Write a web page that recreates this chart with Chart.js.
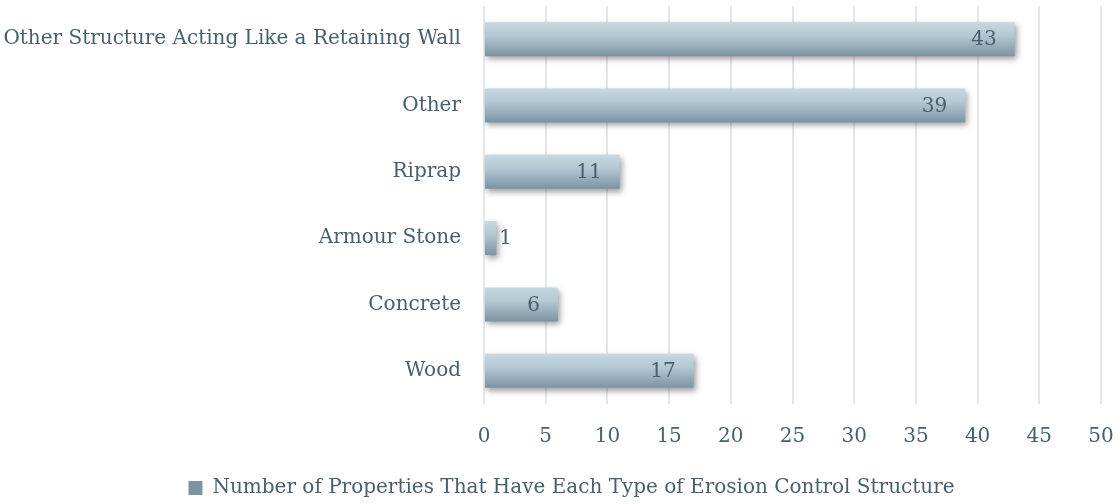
<!DOCTYPE html>
<html>
<head>
<meta charset="utf-8">
<script src="https://cdn.jsdelivr.net/npm/chart.js@4.4.1/dist/chart.umd.min.js"></script>
<style>
html,body{margin:0;padding:0;background:#fff;}
#wrap{width:1120px;height:504px;}
</style>
</head>
<body>
<div id="wrap"><canvas id="c" width="1120" height="504"></canvas></div>
<script>
const categories = ["Other Structure Acting Like a Retaining Wall","Other","Riprap","Armour Stone","Concrete","Wood"];
const values = [43, 39, 11, 1, 6, 17];
const seriesName = "Number of Properties That Have Each Type of Erosion Control Structure";
const xTicks = [0,5,10,15,20,25,30,35,40,45,50];

const FONT = "'DejaVu Serif', serif";
const TEXT = '#47606f';
const BAR_PCT = 0.8, CAT_PCT = 0.64;

function grad(ctx, top, bot) {
  const g = ctx.createLinearGradient(0, top, 0, bot);
  g.addColorStop(0, '#c6d8e1');
  g.addColorStop(0.4, '#b3c8d3');
  g.addColorStop(1, '#7b93a2');
  return g;
}

const shadowPlugin = {
  id: 'shadow',
  beforeDatasetDraw(chart) {
    const ctx = chart.ctx;
    ctx.save();
    ctx.shadowColor = 'rgba(0,0,0,0.38)';
    ctx.shadowBlur = 6;
    ctx.shadowOffsetX = 2;
    ctx.shadowOffsetY = 3;
  },
  afterDatasetDraw(chart) {
    chart.ctx.restore();
  }
};

// nudge legend to sit where the reference has it
const legendShift = {
  id: 'legendShift',
  afterLayout(chart) {
    const l = chart.legend;
    if (!l) return;
    l.left += 21; l.right += 21;
    l.top += 4; l.bottom += 4;
    if (l.adjustHitBoxes) l.adjustHitBoxes();
  }
};

const labelPlugin = {
  id: 'vals',
  afterDatasetsDraw(chart) {
    const ctx = chart.ctx;
    const meta = chart.getDatasetMeta(0);
    ctx.save();
    ctx.font = "20px " + FONT;
    ctx.fillStyle = '#4a5f6d';
    ctx.textBaseline = 'middle';
    meta.data.forEach((bar, i) => {
      const txt = String(values[i]);
      const w = bar.x - bar.base;
      if (w > 30) {
        ctx.textAlign = 'right';
        ctx.fillText(txt, bar.x - 18, bar.y + 1);
      } else {
        ctx.textAlign = 'left';
        ctx.fillText(txt, bar.x + 3, bar.y + 1);
      }
    });
    ctx.restore();
  }
};

const ctx = document.getElementById('c').getContext('2d');
new Chart(ctx, {
  type: 'bar',
  data: {
    labels: categories,
    datasets: [{
      label: seriesName,
      data: values,
      backgroundColor(c) {
        const chart = c.chart;
        const ys = chart.scales && chart.scales.y;
        if (c.type === 'data' && ys && chart.chartArea) {
          const center = ys.getPixelForValue(c.dataIndex);
          const h = (ys.height / categories.length) * BAR_PCT * CAT_PCT;
          if (isFinite(center) && isFinite(h)) {
            return grad(chart.ctx, center - h / 2, center + h / 2);
          }
        }
        return grad(chart.ctx, 480, 494);
      },
      borderWidth: 0,
      barPercentage: BAR_PCT,
      categoryPercentage: CAT_PCT
    }]
  },
  options: {
    indexAxis: 'y',
    responsive: false,
    animation: false,
    devicePixelRatio: 1,
    layout: { padding: { top: 6, right: 19, left: 0, bottom: 0 } },
    scales: {
      x: {
        min: 0, max: 50,
        afterBuildTicks(scale) { scale.ticks = xTicks.map(v => ({ value: v })); },
        afterFit(scale) { scale.height = 69; scale.paddingLeft = 0; scale.paddingRight = 0; },
        grid: { color: '#e1e7ec', lineWidth: 2, drawTicks: false },
        border: { display: false },
        ticks: { color: TEXT, font: { family: FONT, size: 20 }, padding: 21 }
      },
      y: {
        grid: { display: false },
        border: { display: false },
        afterFit(scale) { scale.width = 484; scale.paddingTop = 0; scale.paddingBottom = 0; },
        ticks: { color: TEXT, font: { family: FONT, size: 20 }, padding: 15 }
      }
    },
    plugins: {
      legend: {
        position: 'bottom',
        labels: {
          color: TEXT,
          font: { family: FONT, size: 20 },
          boxWidth: 14, boxHeight: 14, padding: 1
        }
      },
      tooltip: { enabled: false }
    }
  },
  plugins: [shadowPlugin, labelPlugin, legendShift]
});
</script>
</body>
</html>
